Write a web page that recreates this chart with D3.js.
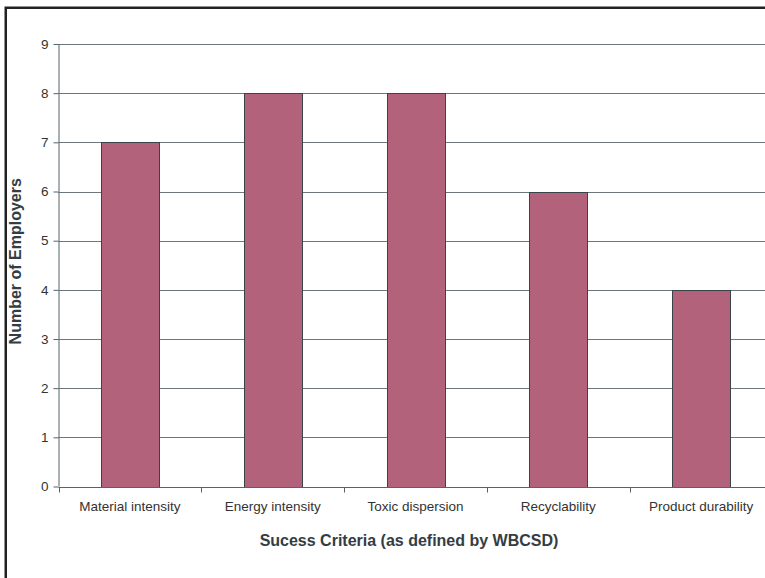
<!DOCTYPE html>
<html>
<head>
<meta charset="utf-8">
<script src="https://cdn.jsdelivr.net/npm/d3@7"></script>
<style>
  html, body { margin: 0; padding: 0; background: #fff; }
  svg { display: block; }
  text { font-family: Arial, "Liberation Sans", sans-serif; }
</style>
</head>
<body>
<svg id="chart" width="765" height="578"></svg>
<script>
const categories = ["Material intensity", "Energy intensity", "Toxic dispersion", "Recyclability", "Product durability"];
const values = [7, 8, 8, 6, 4];
const yTicks = [0, 1, 2, 3, 4, 5, 6, 7, 8, 9];
const xTitle = "Sucess Criteria (as defined by WBCSD)";
const yTitle = "Number of Employers";

(function () {
const svg = d3.select("#chart");
const pLeft = 58.5, pRight = 772.5, pTop = 44, pBottom = 486.5;

// outer chart border (extends beyond the visible area on right/bottom)
svg.append("rect")
  .attr("x", 5.75).attr("y", 7.75)
  .attr("width", 820).attr("height", 620)
  .attr("fill", "none").attr("stroke", "#222").attr("stroke-width", 2.5);

const x = d3.scaleBand().domain(categories).range([pLeft, pRight]).paddingInner(0).paddingOuter(0);
const y = d3.scaleLinear().domain([0, 9]).range([pBottom, pTop]);

// gridlines
svg.append("g").selectAll("line").data(yTicks.filter(d => d > 0)).join("line")
  .attr("x1", pLeft).attr("x2", pRight)
  .attr("y1", d => Math.round(y(d)) + 0.5).attr("y2", d => Math.round(y(d)) + 0.5)
  .attr("stroke", "#6b777c").attr("stroke-width", 1);

// bars
const barW = x.bandwidth() * 0.406;
svg.append("g").selectAll("rect").data(values).join("rect")
  .attr("x", (d, i) => Math.round(x(categories[i]) + (x.bandwidth() - barW) / 2) + 0.5)
  .attr("y", d => Math.round(y(d)) + 0.5)
  .attr("width", Math.round(barW))
  .attr("height", d => Math.round(y(0)) - Math.round(y(d)))
  .attr("fill", "#b3627b").attr("stroke", "#3a4448").attr("stroke-width", 1);

// y axis
const yAxis = d3.axisLeft(y).tickValues(yTicks).tickSize(5).tickPadding(5).tickFormat(d3.format("d"));
const gy = svg.append("g").attr("transform", `translate(${pLeft},0)`).call(yAxis);
gy.select(".domain").attr("stroke", "#55636a").attr("d", `M0.5,${pTop}V${pBottom}`);
gy.selectAll(".tick line").attr("stroke", "#55636a");
gy.selectAll(".tick text").attr("fill", "#333").style("font-size", "13.5px").style("font-family", "Arial, 'Liberation Sans', sans-serif");

// x axis
const xAxis = d3.axisBottom(x).tickSize(0).tickPadding(14);
const gx = svg.append("g").attr("transform", `translate(0,${Math.round(pBottom) + 0.5})`).call(xAxis);
gx.select(".domain").attr("stroke", "#55636a").attr("d", `M${pLeft},0H${pRight}`);
gx.selectAll(".tick text").attr("fill", "#333").style("font-size", "13.5px").style("font-family", "Arial, 'Liberation Sans', sans-serif");
// boundary tick marks
const bounds = categories.map(c => x(c)).concat([x(categories[categories.length - 1]) + x.bandwidth()]);
gx.append("g").selectAll("line").data(bounds).join("line")
  .attr("x1", d => Math.round(d) + 0.5).attr("x2", d => Math.round(d) + 0.5)
  .attr("y1", 0).attr("y2", 5)
  .attr("stroke", "#55636a");

// titles
svg.append("text")
  .attr("x", 409).attr("y", 546)
  .attr("text-anchor", "middle")
  .attr("fill", "#333d44")
  .style("font-size", "16px").style("font-weight", "bold")
  .text(xTitle);

svg.append("text")
  .attr("transform", `translate(21,${(pTop + pBottom) / 2 - 4}) rotate(-90)`)
  .attr("text-anchor", "middle")
  .attr("fill", "#333d44")
  .style("font-size", "16px").style("font-weight", "bold")
  .text(yTitle);
})();
</script>
</body>
</html>
